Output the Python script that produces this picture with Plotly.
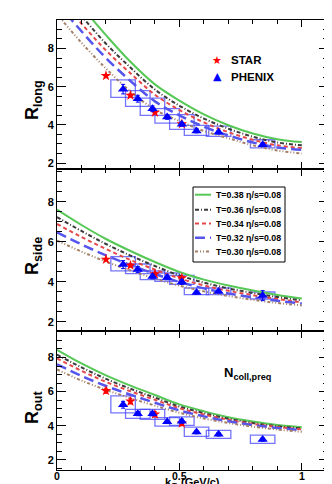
import plotly.graph_objects as go

# kT grid for the hydro curves (GeV/c)
kt_grid = [0.0, 0.1, 0.2, 0.3, 0.4, 0.5, 0.6, 0.7, 0.8, 0.9, 1.0]

# R_long curves (fm)
long_t38 = [11.8, 10.2, 8.7, 7.3, 6.12, 5.27, 4.55, 3.98, 3.55, 3.25, 3.10]
long_t36 = [11.2, 9.7, 8.25, 7.0, 5.85, 5.0, 4.33, 3.80, 3.38, 3.08, 2.93]
long_t34 = [10.8, 9.3, 7.9, 6.7, 5.58, 4.78, 4.13, 3.62, 3.22, 2.93, 2.79]
long_t32 = [10.4, 8.9, 7.5, 6.3, 5.23, 4.5, 3.9, 3.45, 3.08, 2.82, 2.70]
long_t30 = [9.8, 8.3, 6.95, 5.75, 4.8, 4.2, 3.68, 3.3, 2.93, 2.66, 2.50]

# R_side curves
side_t38 = [7.62, 6.85, 6.15, 5.55, 5.0, 4.5, 4.12, 3.82, 3.57, 3.35, 3.17]
side_t36 = [7.25, 6.55, 5.9, 5.32, 4.8, 4.33, 3.97, 3.68, 3.45, 3.25, 3.08]
side_t34 = [6.9, 6.25, 5.65, 5.1, 4.62, 4.18, 3.83, 3.56, 3.34, 3.15, 2.98]
side_t32 = [6.48, 5.88, 5.33, 4.85, 4.4, 4.0, 3.68, 3.43, 3.23, 3.06, 2.92]
side_t30 = [6.07, 5.52, 5.02, 4.58, 4.17, 3.82, 3.53, 3.3, 3.11, 2.95, 2.83]

# R_out curves
out_t38 = [8.45, 7.65, 6.95, 6.35, 5.8, 5.25, 4.85, 4.5, 4.25, 4.05, 3.92]
out_t36 = [8.17, 7.42, 6.75, 6.17, 5.65, 5.13, 4.74, 4.41, 4.16, 3.97, 3.84]
out_t34 = [7.94, 7.22, 6.57, 6.02, 5.52, 5.03, 4.66, 4.35, 4.11, 3.93, 3.79]
out_t32 = [7.6, 6.92, 6.33, 5.82, 5.35, 4.9, 4.55, 4.26, 4.04, 3.87, 3.75]
out_t30 = [7.3, 6.65, 6.1, 5.62, 5.18, 4.76, 4.43, 4.16, 3.95, 3.78, 3.65]

# PHENIX data
phx_kt = [0.27, 0.33, 0.39, 0.45, 0.51, 0.57, 0.66, 0.84]
phx_long = [5.87, 5.37, 4.84, 4.41, 4.03, 3.68, 3.62, 2.96]
phx_long_err = [0.25, 0.18, 0.15, 0.12, 0.1, 0.1, 0.1, 0.1]
phx_long_lo = [5.44, 4.97, 4.5, 4.09, 3.76, 3.45, 3.40, 2.80]
phx_long_hi = [6.36, 5.79, 5.4, 4.85, 4.54, 3.97, 3.93, 3.22]
phx_side = [4.87, 4.63, 4.28, 4.23, 4.0, 3.48, 3.53, 3.32]
phx_side_err = [0.2, 0.15, 0.12, 0.12, 0.12, 0.08, 0.08, 0.25]
phx_side_lo = [4.56, 4.42, 4.12, 4.03, 3.88, 3.37, 3.37, 3.15]
phx_side_hi = [5.27, 4.9, 4.55, 4.45, 4.33, 3.7, 3.7, 3.5]
phx_out = [5.23, 4.71, 4.7, 4.23, 4.27, 3.63, 3.5, 3.2]
phx_out_err = [0.2, 0.12, 0.12, 0.1, 0.12, 0.1, 0.1, 0.1]
phx_out_lo = [4.76, 4.43, 4.37, 3.98, 4.02, 3.38, 3.26, 2.97]
phx_out_hi = [5.75, 4.96, 4.96, 4.48, 4.52, 3.92, 3.73, 3.45]

# STAR data
star_kt = [0.2, 0.3, 0.4, 0.51]
star_long = [6.57, 5.54, 4.65, 4.05]
star_long_err = [0.05, 0.08, 0.08, 0.08]
star_side = [5.13, 4.83, 4.4, 4.2]
star_side_err = [0.05, 0.08, 0.08, 0.08]
star_out = [6.05, 5.43, 4.67, 4.15]
star_out_err = [0.15, 0.15, 0.15, 0.15]

x_ticks = [0, 0.5, 1]
x_ticklabels = ["0", "0.5", "1"]

legend_labels = ["T=0.38 &#951;/s=0.08", "T=0.36 &#951;/s=0.08", "T=0.34 &#951;/s=0.08",
                 "T=0.32 &#951;/s=0.08", "T=0.30 &#951;/s=0.08"]

styles = [
    dict(color="#55c855", width=2, dash="solid"),
    dict(color="#3a3a3a", width=2, dash="4px,2px,1px,2px"),
    dict(color="#e5484a", width=2, dash="4px,3px"),
    dict(color="#5555ee", width=2.5, dash="10px,5px"),
    dict(color="#a58068", width=2, dash="3px,2px,1px,2px,1px,2px"),
]

panels = [
    ("", [long_t38, long_t36, long_t34, long_t32, long_t30],
     phx_long, phx_long_err, phx_long_lo, phx_long_hi, star_long, star_long_err, [1.69, 9.49]),
    ("2", [side_t38, side_t36, side_t34, side_t32, side_t30],
     phx_side, phx_side_err, phx_side_lo, phx_side_hi, star_side, star_side_err, [1.55, 9.65]),
    ("3", [out_t38, out_t36, out_t34, out_t32, out_t30],
     phx_out, phx_out_err, phx_out_lo, phx_out_hi, star_out, star_out_err, [1.41, 9.55]),
]
domains = [[0.6689, 1.0], [0.3089, 0.6689], [0.0, 0.3089]]

fig = go.Figure()
shapes = []
box_half = 0.05

for (k, curves, pv, pe, plo, phi, sv, se, yr) in panels:
    xa = "x" + k
    ya = "y" + k
    for c, st in zip(curves, styles):
        fig.add_trace(go.Scatter(x=kt_grid, y=c, mode="lines", line=dict(shape="spline", **st),
                                 xaxis=xa, yaxis=ya, showlegend=False, hoverinfo="skip"))
    for x, lo, hi in zip(phx_kt, plo, phi):
        shapes.append(dict(type="rect", xref=xa, yref=ya, x0=x - box_half, x1=x + box_half,
                           y0=lo, y1=hi, line=dict(color="rgba(70,70,255,0.75)", width=1.3),
                           layer="below"))
    fig.add_trace(go.Scatter(x=star_kt, y=sv, mode="markers", xaxis=xa, yaxis=ya,
                             marker=dict(symbol="star", size=8, color="red", line=dict(width=0)),
                             error_y=dict(type="data", array=se, color="red", thickness=1, width=2),
                             showlegend=False))
    fig.add_trace(go.Scatter(x=phx_kt, y=pv, mode="markers", xaxis=xa, yaxis=ya,
                             marker=dict(symbol="triangle-up", size=9, color="blue", line=dict(width=0)),
                             error_y=dict(type="data", array=pe, color="blue", thickness=1, width=2),
                             showlegend=False))

tickfont = dict(family="Liberation Sans", size=11, color="black", weight="bold")
layout = dict(
    width=332, height=484,
    margin=dict(l=49, r=12, t=12, b=22),
    paper_bgcolor="white", plot_bgcolor="white",
    showlegend=False,
)
for i, (k, *_rest) in enumerate(panels):
    yr = _rest[-1]
    layout["xaxis" + k] = dict(
        range=[0, 1.107], domain=[0, 1], anchor="y" + k,
        tickvals=x_ticks, showticklabels=False,
        ticks="inside", ticklen=7, tickcolor="black", showline=True, linecolor="black",
        linewidth=1, mirror="allticks", showgrid=False, zeroline=False,
        minor=dict(dtick=0.1, ticks="inside", ticklen=4, tickcolor="black", showgrid=False),
    )
    layout["yaxis" + k] = dict(
        range=yr, domain=domains[i], anchor="x" + k,
        tickvals=[2, 4, 6, 8], ticks="inside", ticklen=9, tickcolor="black",
        showline=True, linecolor="black", linewidth=1, mirror="allticks",
        showgrid=False, zeroline=False, tickfont=tickfont,
        minor=dict(dtick=0.5, ticks="inside", ticklen=5, tickcolor="black", showgrid=False),
    )


def px_x(p):
    return (p - 49) / 271.0


def px_y(p):
    return (462 - p) / 450.0


annotations = []
bold = lambda s: dict(family="Liberation Sans", size=s, color="black", weight="bold")

# x tick labels on the bottom panel
for tv, tl in zip(x_ticks, x_ticklabels):
    annotations.append(dict(xref="x3", yref="paper", x=tv, y=px_y(459.5), text=tl,
                            showarrow=False, xanchor="center", yanchor="top", font=bold(10.5)))

# legend for hydro curves (panel 2)
shapes.append(dict(type="rect", xref="paper", yref="paper", x0=px_x(185), x1=px_x(277),
                   y0=px_y(254), y1=px_y(179), line=dict(color="black", width=1),
                   fillcolor="white", layer="above"))
row_y = [186.7, 201.7, 215.5, 229.8, 243.5]
for lab, st, ry in zip(legend_labels, styles, row_y):
    shapes.append(dict(type="line", xref="paper", yref="paper", x0=px_x(187), x1=px_x(203),
                       y0=px_y(ry), y1=px_y(ry), line=st, layer="above"))
    annotations.append(dict(xref="paper", yref="paper", x=px_x(206), y=px_y(ry), text=lab,
                            showarrow=False, xanchor="left", yanchor="middle", font=bold(8.8)))

# STAR / PHENIX legend
annotations.append(dict(xref="paper", yref="paper", x=px_x(209), y=px_y(44), text="&#9733;",
                        showarrow=False, font=dict(family="DejaVu Sans", size=11, color="red")))
annotations.append(dict(xref="paper", yref="paper", x=px_x(209), y=px_y(60.5), text="&#9650;",
                        showarrow=False, font=dict(family="DejaVu Sans", size=11, color="blue")))
annotations.append(dict(xref="paper", yref="paper", x=px_x(221), y=px_y(44), text="STAR",
                        showarrow=False, xanchor="left", font=bold(11.5)))
annotations.append(dict(xref="paper", yref="paper", x=px_x(221), y=px_y(61), text="PHENIX",
                        showarrow=False, xanchor="left", font=bold(11.5)))

# N_coll,preq label
annotations.append(dict(xref="paper", yref="paper", x=px_x(214), y=px_y(376),
                        text="N<sub>coll,preq</sub>", showarrow=False, xanchor="left",
                        font=bold(13)))

# axis titles
for txt, cy in [("R<sub>long</sub>", 92), ("R<sub>side</sub>", 248), ("R<sub>out</sub>", 400)]:
    annotations.append(dict(xref="paper", yref="paper", x=px_x(25), y=px_y(cy), text=txt,
                            textangle=-90, showarrow=False, xanchor="center", yanchor="middle",
                            font=bold(18)))

# x title built from pieces so the subscript stays inside the page
annotations.append(dict(xref="paper", yref="paper", x=px_x(155), y=px_y(474.5), text="k",
                        showarrow=False, xanchor="left", yanchor="middle", font=bold(11)))
annotations.append(dict(xref="paper", yref="paper", x=px_x(161.8), y=px_y(477.5), text="T",
                        showarrow=False, xanchor="left", yanchor="middle", font=bold(8)))
annotations.append(dict(xref="paper", yref="paper", x=px_x(171), y=px_y(474.5), text="(GeV/c)",
                        showarrow=False, xanchor="left", yanchor="middle", font=bold(11)))

layout["shapes"] = shapes
layout["annotations"] = annotations
fig.update_layout(**layout)

fig.write_html("out.html")
